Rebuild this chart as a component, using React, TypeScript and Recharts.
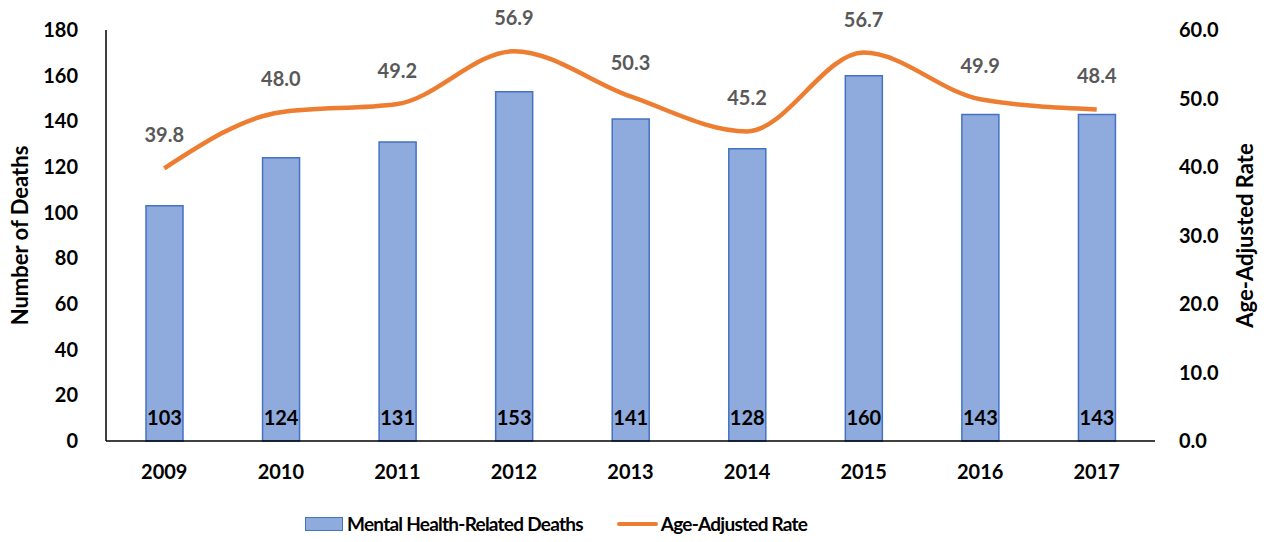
import React from "react";
import { ComposedChart, Bar, Line, XAxis, YAxis, Legend, LabelList } from "recharts";

const years = ["2009", "2010", "2011", "2012", "2013", "2014", "2015", "2016", "2017"];
const deaths = [103, 124, 131, 153, 141, 128, 160, 143, 143];
const rates = [39.8, 48.0, 49.2, 56.9, 50.3, 45.2, 56.7, 49.9, 48.4];
const leftTicks = [0, 20, 40, 60, 80, 100, 120, 140, 160, 180];
const rightTicks = [0, 10, 20, 30, 40, 50, 60];

const data = years.map((y, i) => ({ year: y, deaths: deaths[i], rate: rates[i] }));

const FONT = "Lato, 'Open Sans', sans-serif";

const LegendContent = () => (
  <div style={{ display: "flex", justifyContent: "flex-start", alignItems: "center", fontFamily: FONT, fontWeight: 700, fontSize: 19, letterSpacing: -0.75, color: "#000", paddingTop: 31, paddingLeft: 305 }}>
    <div style={{ display: "flex", alignItems: "center", marginRight: 34 }}>
      <div style={{ width: 36, height: 12, background: "#8FAADC", border: "1.5px solid #4472C4", marginRight: 4 }} />
      <span>Mental Health-Related Deaths</span>
    </div>
    <div style={{ display: "flex", alignItems: "center" }}>
      <div style={{ width: 41, height: 4, background: "#ED7D31", borderRadius: 2, marginRight: 3 }} />
      <span>Age-Adjusted Rate</span>
    </div>
  </div>
);

export default function App() {
  return (
    <div style={{ position: "absolute", left: 0, top: 0, background: "#fff" }}>
      <ComposedChart width={1267} height={542} data={data} margin={{ top: 30, right: 0, bottom: 0, left: 0 }}>
        <XAxis
          dataKey="year"
          height={40}
          tickLine={false}
          axisLine={{ stroke: "#000", strokeWidth: 1.5 }}
          tick={{ fill: "#000", fontSize: 20, fontWeight: 700, fontFamily: FONT }}
          tickMargin={18}
        />
        <YAxis
          yAxisId="left"
          width={106}
          domain={[0, 180]}
          ticks={leftTicks}
          tickLine={false}
          axisLine={{ stroke: "#000", strokeWidth: 1.5 }}
          tick={{ fill: "#000", fontSize: 20, fontWeight: 700, fontFamily: FONT }}
          tickMargin={22}
          label={{ value: "Number of Deaths", angle: -90, position: "insideLeft", offset: 20, style: { fill: "#000", fontSize: 22, fontWeight: 700, fontFamily: FONT, textAnchor: "middle" } }}
        />
        <YAxis
          yAxisId="right"
          orientation="right"
          width={112}
          domain={[0, 60]}
          ticks={rightTicks}
          tickLine={false}
          axisLine={false}
          tickFormatter={(v: number) => v.toFixed(1)}
          tick={{ fill: "#000", fontSize: 20, fontWeight: 700, fontFamily: FONT }}
          tickMargin={18}
          label={{ value: "Age-Adjusted Rate", angle: -90, position: "insideRight", offset: 22, style: { fill: "#000", fontSize: 22, fontWeight: 700, fontFamily: FONT, textAnchor: "middle" } }}
        />
        <Legend verticalAlign="bottom" height={61} content={<LegendContent />} />
        <Bar yAxisId="left" dataKey="deaths" barSize={37} fill="#8FAADC" stroke="#4472C4" strokeWidth={1.5} isAnimationActive={false}>
          <LabelList dataKey="deaths" position="insideBottom" offset={16} style={{ fill: "#000", fontSize: 20, fontWeight: 700, fontFamily: FONT }} />
        </Bar>
        <Line yAxisId="right" type="monotone" dataKey="rate" stroke="#ED7D31" strokeWidth={4.5} dot={false} isAnimationActive={false}>
          <LabelList dataKey="rate" position="top" offset={26} formatter={(v: number) => v.toFixed(1)} style={{ fill: "#595959", fontSize: 20, fontWeight: 700, fontFamily: FONT }} />
        </Line>
      </ComposedChart>
    </div>
  );
}
